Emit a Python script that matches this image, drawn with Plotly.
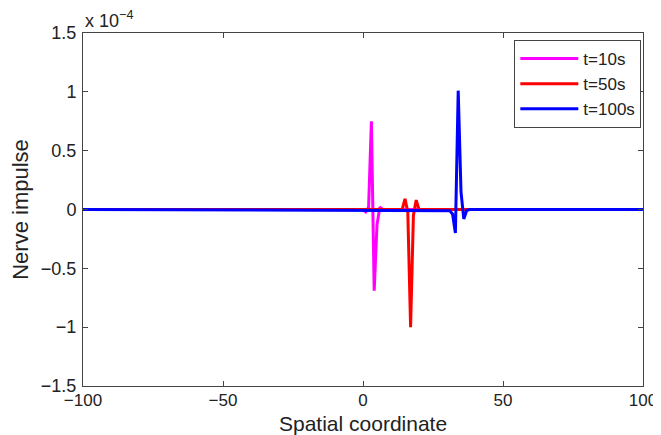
import plotly.graph_objects as go

# Values (y in units of 1e-4, as labelled on the axis)
x_t10 = [-100, 0, 1, 2, 3, 4, 5, 6, 7, 100]
y_t10 = [0, 0, -0.02, 0.02, 0.75, -0.69, -0.13, 0.02, 0, 0]

x_t50 = [-100, 14, 15, 16, 17, 18, 19, 20, 100]
y_t50 = [0, 0, 0.09, -0.02, -1.0, -0.05, 0.08, 0, 0]

x_t100 = [-100, 31, 32, 33, 34, 35, 36, 37, 38, 100]
y_t100 = [0, -0.01, -0.04, -0.20, 1.01, 0.15, -0.08, -0.01, 0, 0]

series_names = ["t=10s", "t=50s", "t=100s"]
series_colors = ["#ff00ff", "#ff0000", "#0000ff"]

x_ticks = [-100, -50, 0, 50, 100]
y_ticks = [-1.5, -1, -0.5, 0, 0.5, 1, 1.5]

FONT = "Liberation Sans, Arial, sans-serif"
TXT = "#222222"

fig = go.Figure()
for xs, ys, name, col in zip([x_t10, x_t50, x_t100], [y_t10, y_t50, y_t100],
                             series_names, series_colors):
    fig.add_trace(go.Scatter(x=xs, y=ys, mode="lines", name=name,
                             line=dict(color=col, width=3)))

axis_common = dict(showline=True, linecolor="#444444", linewidth=1, mirror="ticks",
                   ticks="inside", ticklen=5, tickcolor="#444444", showgrid=False,
                   zeroline=False, automargin=False)

fig.update_xaxes(range=[-100, 100], tickvals=x_ticks,
                 tickfont=dict(family=FONT, size=17, color=TXT),
                 ticklabelstandoff=-1, **axis_common)
fig.update_yaxes(range=[-1.5, 1.5], tickvals=y_ticks,
                 tickfont=dict(family=FONT, size=18, color=TXT),
                 title=dict(text="Nerve impulse", font=dict(family=FONT, size=22, color=TXT),
                            standoff=6),
                 ticklabelstandoff=2, **axis_common)

# x-axis title placed as an annotation for exact positioning
fig.add_annotation(text="Spatial coordinate", xref="paper", yref="paper", x=0.5, y=0,
                   xanchor="center", yanchor="middle", yshift=-37, showarrow=False,
                   font=dict(family=FONT, size=21, color=TXT))

fig.add_annotation(text="x 10<sup>−4</sup>", xref="paper", yref="paper", x=0, y=1,
                   xanchor="left", yanchor="bottom", showarrow=False, yshift=0,
                   font=dict(family=FONT, size=18, color=TXT))

# the page body adds an 8px offset, so the figure is sized/margined to compensate
fig.update_layout(
    width=652, height=427,
    margin=dict(l=75, r=17, t=25, b=49),
    paper_bgcolor="white", plot_bgcolor="white",
    showlegend=True,
    legend=dict(x=0.997, y=0.98, xanchor="right", yanchor="top",
                bordercolor="#444444", borderwidth=1, bgcolor="white",
                font=dict(family=FONT, size=17, color=TXT),
                tracegroupgap=0, itemwidth=58),
)

fig.write_html("out.html")
